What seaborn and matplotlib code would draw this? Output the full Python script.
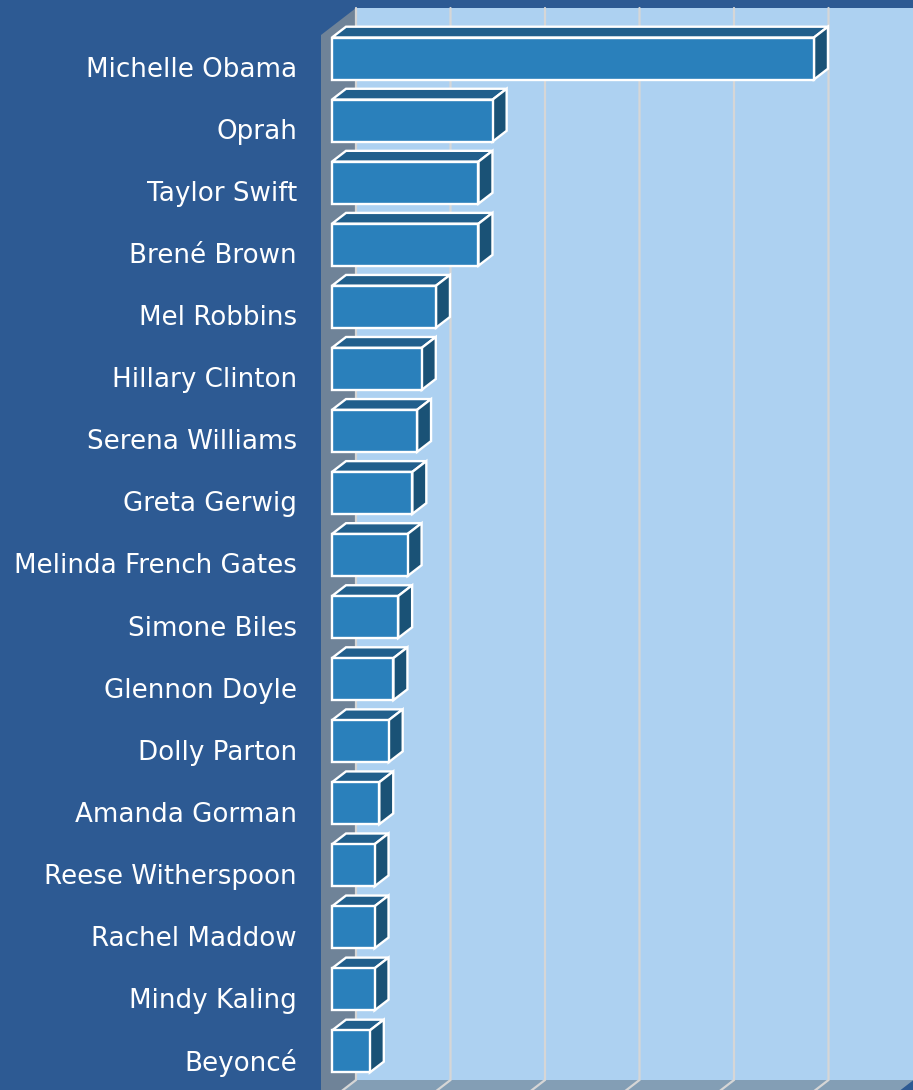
import matplotlib
matplotlib.use("Agg")
import matplotlib.pyplot as plt
import seaborn as sns
import pandas as pd
from matplotlib.patches import Polygon
from matplotlib.lines import Line2D

# ---- data -------------------------------------------------------------
names = ["Michelle Obama", "Oprah", "Taylor Swift", "Brené Brown", "Mel Robbins",
         "Hillary Clinton", "Serena Williams", "Greta Gerwig", "Melinda French Gates",
         "Simone Biles", "Glennon Doyle", "Dolly Parton", "Amanda Gorman",
         "Reese Witherspoon", "Rachel Maddow", "Mindy Kaling", "Beyoncé"]
mentions = [102, 34, 31, 31, 22, 19, 18, 17, 16, 14, 13, 12, 10, 9, 9, 9, 8]
grid_ticks = [0, 20, 40, 60, 80, 100, 120]

# ---- colours ------------------------------------------------------------
BG = "#2D5A93"
WALL_BACK = "#ADD1F1"
WALL_SIDE = "#6F8398"
FLOOR = "#839EB5"
GRID = "#D6D6D6"
BAR_FRONT = "#2A80BB"
BAR_TOP = "#215F8C"
BAR_SIDE = "#1A5276"

sns.set_style("white")
plt.rcParams["font.family"] = ["DejaVu Sans"]

W, H = 913, 1090
fig = plt.figure(figsize=(W / 100, H / 100), dpi=100, facecolor=BG)

# front plane of the 3-D box, in pixels
PX_PER_UNIT = 4.725
X_LEFT_PX = 321
TOP_PX, BOTTOM_PX = 35, 1107
ROW0_PX, ROW_PITCH = 67, 62.06
XMAX = 118.0

ax = fig.add_axes([X_LEFT_PX / W, 1 - BOTTOM_PX / H,
                   XMAX * PX_PER_UNIT / W, (BOTTOM_PX - TOP_PX) / H])

y_top = (TOP_PX - ROW0_PX) / ROW_PITCH
y_bot = (BOTTOM_PX - ROW0_PX) / ROW_PITCH

# oblique depth offset (full depth) in data units
DX = 35 / PX_PER_UNIT
DY = 27 / ROW_PITCH
D_FRONT, D_BACK = 11 / 35, 25 / 35
BAR_H = 0.677


def P(x, y, d):
    return (x + d * DX, y - d * DY)


df = pd.DataFrame({"name": names, "mentions": mentions})
sns.barplot(data=df, x="mentions", y="name", orient="h", color=BAR_FRONT,
            saturation=1, width=BAR_H, edgecolor="white", linewidth=1.7,
            ax=ax, zorder=5)
bars = list(ax.patches)
for p in bars:
    p.set_x(p.get_x() + D_FRONT * DX)
    p.set_y(p.get_y() - D_FRONT * DY)
    p.set_clip_on(False)
    p.set_joinstyle("miter")

# walls and floor
walls = [
    ([P(0, y_top, 1), P(XMAX, y_top, 1), P(XMAX, y_bot, 1), P(0, y_bot, 1)], WALL_BACK),
    ([P(0, y_top, 0), P(0, y_top, 1), P(0, y_bot, 1), P(0, y_bot, 0)], WALL_SIDE),
    ([P(0, y_bot, 0), P(0, y_bot, 1), P(XMAX, y_bot, 1), P(XMAX, y_bot, 0)], FLOOR),
]
for verts, c in walls:
    ax.add_patch(Polygon(verts, closed=True, facecolor=c, edgecolor="none",
                         zorder=0, clip_on=False))

# gridlines on back wall and floor
for t in grid_ticks:
    if t > XMAX:
        continue
    pts = [P(t, y_top, 1), P(t, y_bot, 1), P(t, y_bot, 0)]
    ax.add_line(Line2D([q[0] for q in pts], [q[1] for q in pts], color=GRID,
                       lw=1.6, zorder=1, clip_on=False, solid_joinstyle="miter"))

# top and side faces of each bar
for i, v in enumerate(mentions):
    yt, yb = i - BAR_H / 2, i + BAR_H / 2
    top = [P(0, yt, D_FRONT), P(v, yt, D_FRONT), P(v, yt, D_BACK), P(0, yt, D_BACK)]
    side = [P(v, yt, D_FRONT), P(v, yb, D_FRONT), P(v, yb, D_BACK), P(v, yt, D_BACK)]
    for verts, c in ((top, BAR_TOP), (side, BAR_SIDE)):
        ax.add_patch(Polygon(verts, closed=True, facecolor=c, edgecolor="white",
                             lw=1.7, zorder=4, clip_on=False, joinstyle="miter"))

ax.set_xlim(0, XMAX)
ax.set_ylim(y_bot, y_top)
ax.patch.set_visible(False)
for s in ax.spines.values():
    s.set_visible(False)
ax.set_xticks([])
ax.set_yticks(range(len(names)))
ax.set_yticklabels(names)
ax.tick_params(axis="y", length=0, pad=17.3, labelcolor="white", labelsize=18.8)
ax.set_xlabel("")
ax.set_ylabel("")

fig.savefig("out.png", dpi=100, facecolor=BG)
